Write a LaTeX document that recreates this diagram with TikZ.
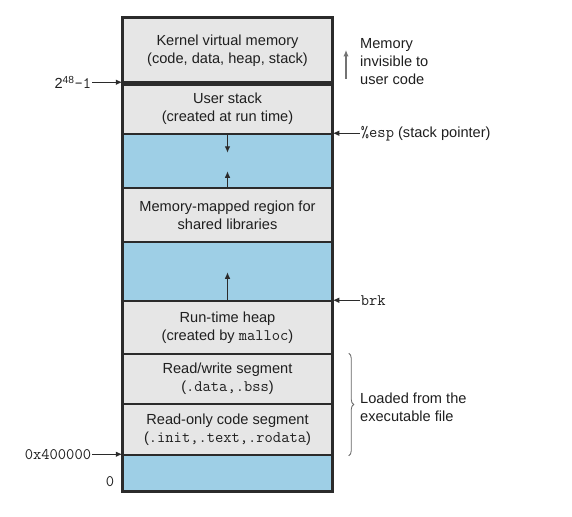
\documentclass[tikz,border=0pt]{standalone}
\usepackage{fontspec}
\setmainfont{Liberation Sans}
\setmonofont{Latin Modern Mono}[Scale=1.1]
\usetikzlibrary{positioning,arrows.meta,decorations.pathreplacing}
\definecolor{segfill}{HTML}{E6E6E6}
\definecolor{gapfill}{HTML}{9ECFE6}
\definecolor{edge}{HTML}{2B2B2B}

\begin{document}
\begin{tikzpicture}[x=1pt,y=-1pt,font=\fontsize{14.6}{18}\selectfont,
  seg/.style={draw=edge,line width=1.5pt,fill=segfill,minimum width=209pt,inner sep=0pt,align=center,text=black!88},
  gap/.style={seg,fill=gapfill},
  ptr/.style={-{Latex[length=6.5pt,width=5.5pt]},line width=1pt,edge},
  lab/.style={inner sep=1pt,text=black!88}]
\useasboundingbox (0,0) rectangle (572,516);

\node[seg,minimum height=65pt](kern) at (227.5,50.5) {Kernel virtual memory\\(code, data, heap, stack)};
\node[seg,minimum height=51pt](ustack) at (227.5,108.5) {User stack\\(created at run time)};
\node[gap,minimum height=54pt](gap1) at (227.5,161) {};
\node[seg,minimum height=54pt](mmap) at (227.5,215) {Memory-mapped region for\\shared libraries};
\node[gap,minimum height=59pt](gap2) at (227.5,271.5) {};
\node[seg,minimum height=53pt](heap) at (227.5,327.5) {Run-time heap\\(created by \texttt{malloc})};
\node[seg,minimum height=50pt](rw) at (227.5,379) {Read/write segment\\(\texttt{.data,.bss})};
\node[seg,minimum height=51pt](ro) at (227.5,429.5) {Read-only code segment\\(\texttt{.init,.text,.rodata})};
\node[gap,minimum height=36pt](gap3) at (227.5,473) {};

\draw[edge,line width=4.5pt](kern.south west) -- (kern.south east);
\draw[edge,line width=2pt](kern.north west) rectangle (gap3.south east);

\draw[ptr](ustack.south) -- ([yshift=-18pt]ustack.south);
\draw[ptr](mmap.north) -- ([yshift=16pt]mmap.north);
\draw[ptr](heap.north) -- ([yshift=28pt]heap.north);

\node[lab](top)[left=30pt of ustack.north west]{2\textsuperscript{48}\texttt{-1}};
\node[lab](text0)[left=30pt of gap3.north west]{\texttt{0x400000}};
\node[lab](zero)[left=7pt of gap3.west,yshift=-9pt]{\texttt{0}};
\draw[ptr](top) -- (ustack.north west);
\draw[ptr](text0) -- (gap3.north west);

\node[lab](esp)[right=27pt of gap1.north east]{\texttt{\%esp} (stack pointer)};
\node[lab](brk)[right=27pt of heap.north east]{\texttt{brk}};
\draw[ptr](esp) -- (gap1.north east);
\draw[ptr](brk) -- (heap.north east);

\coordinate (inv0) at (346,79);
\coordinate (inv1) at (346,50);
\draw[ptr,black!55,line width=1.2pt](inv0) -- (inv1);
\node[lab,align=left,anchor=west](invis) at (359,62) {Memory\\invisible to\\user code};

\draw[black!60,line width=0.8pt,decorate,decoration={brace,amplitude=5pt}](rw.north east) ++(16pt,0) coordinate (br0) -- (ro.south east -| br0);
\node[lab,align=left,anchor=west](loaded) at (359,407) {Loaded from the\\executable file};
\end{tikzpicture}
\end{document}
